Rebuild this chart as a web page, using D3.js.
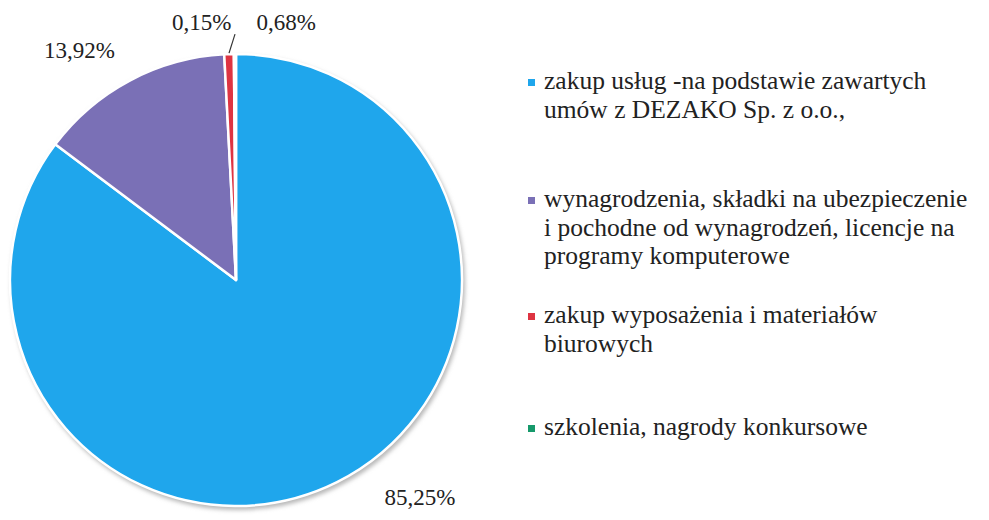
<!DOCTYPE html>
<html>
<head>
<meta charset="utf-8">
<script src="https://cdn.jsdelivr.net/npm/d3@7"></script>
<style>
  html, body { margin: 0; padding: 0; background: #fff; }
  svg { display: block; }
</style>
</head>
<body>
<div id="chart"></div>
<script>
// Shares of spending by category (percent)
var categories = [
  ['zakup usług -na podstawie zawartych', 'umów z DEZAKO Sp. z o.o.,'],
  ['wynagrodzenia, składki na ubezpieczenie', 'i pochodne od wynagrodzeń, licencje na', 'programy komputerowe'],
  ['zakup wyposażenia i materiałów', 'biurowych'],
  ['szkolenia, nagrody konkursowe']
];
var shares = [85.25, 13.92, 0.68, 0.15];
var shareLabels = ['85,25%', '13,92%', '0,68%', '0,15%'];
var colors = ['#1fa6ec', '#7a70b6', '#de3442', '#16996b'];

var serif = "'Liberation Serif', 'Times New Roman', Times, 'DejaVu Serif', serif";
var width = 989, height = 520;
var cx = 236, cy = 280, radius = 226;

var svg = d3.select('#chart').append('svg')
  .attr('width', width)
  .attr('height', height)
  .style('font-family', serif);

// soft shadow behind the pie
var defs = svg.append('defs');
defs.append('filter').attr('id', 'shadow')
  .attr('x', '-10%').attr('y', '-10%').attr('width', '120%').attr('height', '120%')
  .append('feGaussianBlur').attr('stdDeviation', 2);

var pieG = svg.append('g').attr('transform', `translate(${cx},${cy})`);

pieG.append('circle')
  .attr('cx', 2).attr('cy', 3)
  .attr('r', radius + 1)
  .attr('fill', '#b8b8b8')
  .attr('filter', 'url(#shadow)');

var pie = d3.pie().sort(null).value((d) => d);
var arcs = pie(shares);
var arc = d3.arc().innerRadius(0).outerRadius(radius);

pieG.selectAll('path.slice')
  .data(arcs)
  .join('path')
  .attr('class', 'slice')
  .attr('d', arc)
  .attr('fill', (d, i) => colors[i])
  .attr('stroke', '#fff')
  .attr('stroke-width', 2.5)
  .attr('stroke-linejoin', 'round');

// labels: placed on an outer arc, with nudges for the crowded small slices
var labelArc = d3.arc().innerRadius(282).outerRadius(282);
var labelNudge = [[58, -35], [-24, 19], [59, 24], [-33, 24]];

pieG.selectAll('text.pct')
  .data(arcs)
  .join('text')
  .attr('class', 'pct')
  .attr('x', (d, i) => labelArc.centroid(d)[0] + labelNudge[i][0])
  .attr('y', (d, i) => labelArc.centroid(d)[1] + labelNudge[i][1])
  .attr('text-anchor', 'middle')
  .attr('dy', '0.35em')
  .attr('font-family', serif)
  .attr('font-size', 23)
  .attr('fill', '#222')
  .text((d, i) => shareLabels[i]);

// leader line from the red slice
var redArc = arcs[2];
var a = (redArc.startAngle + redArc.endAngle) / 2;
pieG.append('line')
  .attr('x1', Math.sin(a) * (radius + 1))
  .attr('y1', -Math.cos(a) * (radius + 1))
  .attr('x2', Math.sin(a) * (radius + 1) + 6)
  .attr('y2', -Math.cos(a) * (radius + 1) - 19)
  .attr('stroke', '#333')
  .attr('stroke-width', 1.2);

// legend
var legendTop = [89, 207, 323, 435];
var lineHeight = 28.5;
var legend = svg.append('g').attr('font-size', 25.5).attr('fill', '#222');

var items = legend.selectAll('g.item')
  .data(categories)
  .join('g')
  .attr('class', 'item')
  .attr('transform', (d, i) => `translate(0,${legendTop[i]})`);

items.append('rect')
  .attr('x', 528)
  .attr('y', -10)
  .attr('width', 7)
  .attr('height', 7)
  .attr('fill', (d, i) => colors[i]);

items.selectAll('text')
  .data((d) => d)
  .join('text')
  .attr('x', 544)
  .attr('y', (d, j) => j * lineHeight)
  .attr('font-family', serif)
  .text((d) => d);
</script>
</body>
</html>
